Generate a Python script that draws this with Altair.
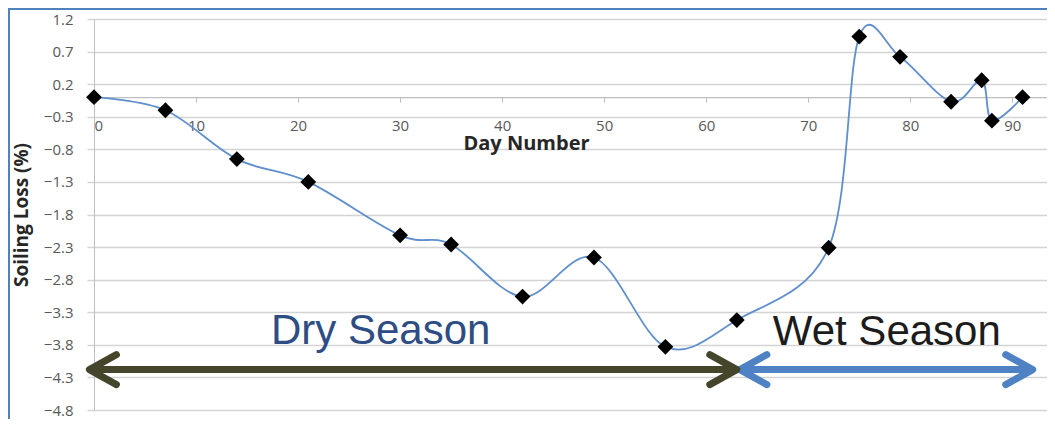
import altair as alt
import pandas as pd

# ---- data ----
days = [0, 7, 14, 21, 30, 35, 42, 49, 56, 63, 72, 75, 79, 84, 87, 88, 91]
loss = [0.0, -0.2, -0.95, -1.30, -2.12, -2.26, -3.06, -2.46, -3.83, -3.42,
        -2.31, 0.93, 0.62, -0.07, 0.26, -0.36, 0.0]

y_ticks = [1.2, 0.7, 0.2, -0.3, -0.8, -1.3, -1.8, -2.3, -2.8, -3.3, -3.8, -4.3, -4.8]
x_ticks = [0, 10, 20, 30, 40, 50, 60, 70, 80, 90]

season_names = ["Dry Season", "Wet Season"]
season_start = [-0.45, 63.3]
season_end = [63.0, 92.0]
season_arrow_y = [-4.18, -4.18]
season_arrow_color = ["#45452b", "#4f82c4"]
season_label_x = [28.1, 77.7]
season_label_y = [-3.78, -3.81]
season_label_color = ["#2d4d84", "#1c1c1c"]

W, H = 953, 391
TOP = 11
BOTTOM = 9
X_MAX = 93.4
Y_ZERO_FROM_TOP = H * 1.2 / 6.0  # pixel offset of value 0 from the top of the plot

df = pd.DataFrame({"day": days, "loss": loss})
arrows = pd.DataFrame({
    "season": season_names, "start": season_start, "end": season_end,
    "y": season_arrow_y, "color": season_arrow_color,
})
labels = pd.DataFrame({
    "season": season_names, "x": season_label_x, "y": season_label_y,
    "color": season_label_color,
})

xs = alt.Scale(domain=[0, X_MAX], nice=False, zero=False)
ys = alt.Scale(domain=[-4.8, 1.2], nice=False, zero=False)

font = "Open Sans"

x_axis = alt.Axis(
    values=x_ticks, tickCount=len(x_ticks) + 5, grid=False,
    offset=-(H - Y_ZERO_FROM_TOP),
    tickSize=5, tickColor="#bfbfbf", domainColor="#bfbfbf", domainWidth=1.2,
    labelPadding=16, labelColor="#595959", labelFont=font, labelFontSize=15,
    labelOverlap=False,
    title="Day Number", titleFont=font, titleFontSize=20, titleFontWeight="bold",
    titleColor="#262626", titleX=432, titleY=46, titleBaseline="middle",
    titleAlign="center",
)
y_axis = alt.Axis(
    values=y_ticks, tickCount=len(y_ticks) + 5, format=".1f", grid=True,
    gridColor="#d4d4d4", gridWidth=1.5,
    tickSize=7, tickColor="#d4d4d4", tickWidth=1.5, domainColor="#bfbfbf",
    labelPadding=14, labelColor="#595959", labelFont=font, labelFontSize=15,
    labelOverlap=False, labelFlush=False,
    title="Soiling Loss (%)", titleFont=font, titleFontSize=19,
    titleFontWeight="bold", titleColor="#262626", titleX=-73, titleY=H / 2,
    titleBaseline="middle", titleAlign="center", titleAngle=-90,
)

line = alt.Chart(df).mark_line(
    interpolate="cardinal", color="#5f8fcc", strokeWidth=1.8
).encode(
    x=alt.X("day:Q", scale=xs, axis=x_axis),
    y=alt.Y("loss:Q", scale=ys, axis=y_axis),
)

points = alt.Chart(df).mark_point(
    shape="diamond", filled=True, color="black", opacity=1, size=250
).encode(x=alt.X("day:Q", scale=xs), y=alt.Y("loss:Q", scale=ys))

shaft = alt.Chart(arrows).mark_rule(strokeWidth=7).encode(
    x=alt.X("start:Q", scale=xs), x2="end:Q",
    y=alt.Y("y:Q", scale=ys),
    color=alt.Color("color:N", scale=None),
)

left_head = alt.Chart(arrows).mark_point(
    shape="M1.8,-1L0,0L1.8,1", filled=False, strokeWidth=7, size=900,
    strokeCap="round", strokeJoin="round", opacity=1,
).encode(
    x=alt.X("start:Q", scale=xs), y=alt.Y("y:Q", scale=ys),
    color=alt.Color("color:N", scale=None),
)
right_head = alt.Chart(arrows).mark_point(
    shape="M-1.8,-1L0,0L-1.8,1", filled=False, strokeWidth=7, size=900,
    strokeCap="round", strokeJoin="round", opacity=1,
).encode(
    x=alt.X("end:Q", scale=xs), y=alt.Y("y:Q", scale=ys),
    color=alt.Color("color:N", scale=None),
)

texts = alt.Chart(labels).mark_text(
    font="Liberation Sans", fontSize=42, baseline="alphabetic", align="center"
).encode(
    x=alt.X("x:Q", scale=xs), y=alt.Y("y:Q", scale=ys),
    text="season:N", color=alt.Color("color:N", scale=None),
)

frame_top = alt.Chart(df).mark_rule(color="#4f81bd", strokeWidth=2).encode(
    x=alt.value(-86), x2=alt.value(W), y=alt.value(-(TOP - 1))
)
frame_left = alt.Chart(df).mark_rule(color="#4f81bd", strokeWidth=2).encode(
    x=alt.value(-85), y=alt.value(-TOP), y2=alt.value(H + BOTTOM)
)

chart = alt.layer(
    line, shaft, left_head, right_head, texts, points, frame_top, frame_left
).properties(
    width=W, height=H,
    autosize=alt.AutoSizeParams(type="none"),
    padding={"left": 86, "top": TOP, "right": 0, "bottom": BOTTOM},
).configure_view(stroke=None).configure(background="white")

chart.save("out.html", embed_options={"renderer": "svg", "actions": False})
